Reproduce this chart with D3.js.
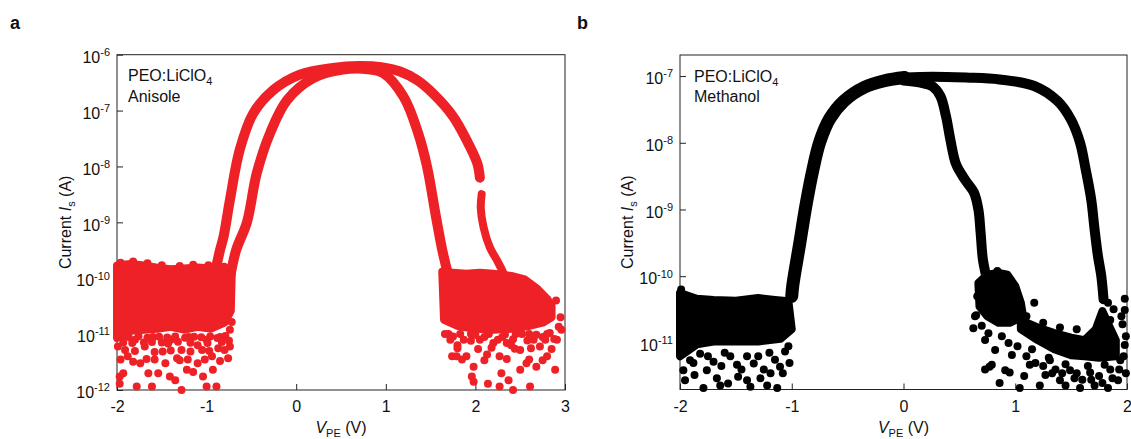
<!DOCTYPE html>
<html>
<head>
<meta charset="utf-8">
<script src="https://cdn.jsdelivr.net/npm/d3@7"></script>
<style>
body { margin: 0; background: #fff; }
svg text { font-family: "Liberation Sans", Arial, sans-serif; fill: #111; }
</style>
</head>
<body>
<div id="chart"></div>
<script>
// ---------- panel a (anisole), V in volts, I in amps ----------
var aTicksX = [-2, -1, 0, 1, 2, 3];
var aTicksY = [1e-12, 1e-11, 1e-10, 1e-9, 1e-8, 1e-7, 1e-6];

// outer left rise -> plateau -> slow right decay
var aSweep1 = [[-0.90,1.4e-10],[-0.85,3.2e-10],[-0.81,5.6e-10],[-0.74,2.5e-9],[-0.63,2.0e-8],[-0.48,8.9e-8],
  [-0.26,2.3e-7],[0.04,4.4e-7],[0.41,5.8e-7],[0.70,6.3e-7],[0.95,6.0e-7],[1.16,5.0e-7],[1.35,3.5e-7],
  [1.53,2.0e-7],[1.75,7.9e-8],[1.90,3.0e-8],[2.02,1.15e-8],[2.05,6.3e-9]];
// inner left rise -> plateau -> steep right drop
var aSweep2 = [[-0.74,1.0e-10],[-0.67,3.2e-10],[-0.55,1.0e-9],[-0.44,7.6e-9],[-0.29,4.0e-8],[-0.10,1.55e-7],
  [0.19,3.8e-7],[0.52,5.4e-7],[0.80,5.5e-7],[0.97,4.7e-7],[1.20,1.75e-7],[1.36,4.0e-8],[1.46,1.0e-8],
  [1.56,1.26e-9],[1.63,3.2e-10],[1.69,1.26e-10]];
var aTail = [[2.07,3.2e-9],[2.06,1.8e-9],[2.09,8.3e-10],[2.16,3.6e-10],[2.24,2.1e-10],[2.31,1.26e-10],[2.35,7.9e-11]];

var aFloorLeftTop = [[-2.0,1.7e-10],[-1.85,1.8e-10],[-1.7,1.7e-10],[-1.55,1.55e-10],[-1.4,1.45e-10],[-1.25,1.5e-10],
  [-1.1,1.55e-10],[-0.95,1.5e-10],[-0.8,1.6e-10],[-0.72,1.2e-10]];
var aFloorLeftBottom = [[-2.0,8.5e-12],[-1.85,1.15e-11],[-1.7,1.2e-11],[-1.55,1.25e-11],[-1.4,1.35e-11],[-1.25,1.2e-11],
  [-1.1,1.35e-11],[-0.95,1.25e-11],[-0.8,1.6e-11],[-0.73,2.6e-11]];
var aFloorRightTop = [[1.63,1.3e-10],[1.75,1.25e-10],[1.9,1.2e-10],[2.05,1.25e-10],[2.2,1.2e-10],[2.4,1.1e-10],
  [2.55,9.5e-11],[2.69,6.5e-11],[2.8,4.3e-11],[2.85,3.2e-11]];
var aFloorRightBottom = [[1.65,1.8e-11],[1.8,1.4e-11],[2.0,1.25e-11],[2.2,1.2e-11],[2.4,1.25e-11],[2.6,1.4e-11],
  [2.75,1.6e-11],[2.85,2.0e-11]];

var aScatterLeft = [[-1.97,1.75e-12],[-1.93,2.0e-12],[-1.97,1.3e-12],[-1.78,1.15e-12],[-1.61,1.15e-12],[-1.28,1.0e-12],
  [-1.0,1.15e-12],[-0.89,1.15e-12],[-1.65,2.0e-12],[-1.54,2.0e-12],[-1.41,1.75e-12],[-1.35,1.5e-12],[-1.22,2.3e-12],
  [-1.15,2.1e-12],[-1.04,1.75e-12],[-0.93,2.3e-12],[-0.76,3.7e-12],[-0.74,6.0e-12],[-1.88,4.0e-12],[-1.82,3.2e-12],
  [-1.74,3.0e-12],[-1.58,3.5e-12],[-1.46,3.0e-12],[-1.33,3.7e-12],[-1.21,3.5e-12],[-1.10,3.0e-12],[-0.94,4.0e-12],
  [-1.99,6.0e-12],[-1.91,5.2e-12],[-1.69,6.0e-12],[-1.49,4.9e-12],[-1.28,5.2e-12],[-1.05,5.2e-12],[-0.87,5.6e-12],
  [-0.72,1.65e-11],[-0.74,1.2e-11],[-1.95,8.9e-12],[-1.8,7.9e-12],[-1.6,8.9e-12],[-1.4,7.9e-12],[-1.2,8.9e-12],
  [-1.0,7.9e-12],[-0.85,8.9e-12],[-1.7,7.1e-12],[-1.5,7.1e-12],[-1.1,6.3e-12],
  [-1.87,8.9e-12],[-1.76,9.2e-12],[-1.66,8.6e-12],[-1.53,9.0e-12],[-1.44,8.7e-12],[-1.35,9.1e-12],[-1.24,8.6e-12],
  [-1.14,9.0e-12],[-1.06,8.8e-12],[-0.96,9.1e-12],[-0.88,8.5e-12],[-0.79,9.3e-12],
  [-1.93,7.1e-12],[-1.83,6.9e-12],[-1.61,7.2e-12],[-1.43,6.8e-12],[-1.32,7.3e-12],[-1.18,7.0e-12],[-0.99,6.9e-12],
  [-0.83,7.2e-12],[-0.75,7.6e-12],[-1.80,5.0e-12],[-1.58,4.8e-12],[-1.40,5.1e-12],[-1.18,4.9e-12],[-0.97,5.0e-12],
  [-0.80,5.2e-12],[-1.96,3.5e-12],[-1.67,3.6e-12],[-1.30,3.4e-12],[-1.02,3.5e-12],[-0.85,3.3e-12],
  [-1.96,1.9e-10],[-1.82,2.0e-10],[-1.66,1.85e-10],[-1.5,1.7e-10],[-1.3,1.65e-10],[-1.15,1.75e-10],[-0.98,1.7e-10]];
var aScatterRight = [[1.75,9.1e-12],[1.74,4.0e-12],[1.79,4.0e-12],[1.90,4.0e-12],[1.98,2.6e-12],[1.96,1.75e-12],
  [1.98,1.4e-12],[2.14,1.3e-12],[2.27,1.15e-12],[2.42,1.0e-12],[2.61,1.15e-12],[2.37,1.5e-12],[2.29,2.0e-12],
  [2.50,2.3e-12],[2.57,3.0e-12],[2.68,2.6e-12],[2.80,4.0e-12],[2.89,2.3e-12],[2.91,7.9e-12],[2.93,1.35e-11],
  [2.83,1.05e-11],[2.27,4.0e-12],[2.13,4.3e-12],[2.05,7.9e-12],[1.87,7.9e-12],[2.35,6.9e-12],[2.50,5.2e-12],
  [2.72,6.0e-12],[2.65,7.9e-12],[2.20,6.9e-12],[2.90,4.0e-11],[2.96,1.2e-11],[2.95,2.0e-11],[1.7,1.0e-11],
  [1.95,1.0e-11],[2.1,8.9e-12],[2.3,8.9e-12],[2.45,1.0e-11],[2.6,1.0e-11],[2.75,8.9e-12],[2.4,6.3e-12],[1.8,6.3e-12],
  [1.66,1.0e-11],[1.83,1.0e-11],[2.0,9.6e-12],[2.15,1.0e-11],[2.33,9.8e-12],[2.52,1.0e-11],[2.68,9.7e-12],[2.8,1.0e-11],
  [1.72,7.9e-12],[1.95,7.6e-12],[2.25,7.9e-12],[2.42,8.1e-12],[2.58,7.7e-12],[2.78,7.9e-12],[2.88,8.2e-12],
  [1.80,5.6e-12],[2.03,5.4e-12],[2.18,5.7e-12],[2.44,5.5e-12],[2.62,5.6e-12],[2.85,5.4e-12],
  [1.85,3.5e-12],[2.10,3.4e-12],[2.35,3.6e-12],[2.60,3.5e-12],[2.75,3.4e-12]];

// ---------- panel b (methanol) ----------
var bTicksX = [-2, -1, 0, 1, 2];
var bTicksY = [1e-11, 1e-10, 1e-9, 1e-8, 1e-7];

var bRise = [[-1.0,5.0e-11],[-0.99,7.4e-11],[-0.93,3.0e-10],[-0.87,1.23e-9],[-0.81,4.0e-9],[-0.75,1.02e-8],
  [-0.66,2.3e-8],[-0.535,4.2e-8],[-0.35,6.8e-8],[-0.17,8.5e-8],[0.01,9.5e-8]];
var bSweepBack = [[0.01,9.5e-8],[0.255,9.8e-8],[0.56,9.5e-8],[0.86,8.9e-8],[1.17,7.1e-8],[1.38,4.2e-8],[1.50,2.2e-8],
  [1.58,1.0e-8],[1.63,4.0e-9],[1.68,1.4e-9],[1.71,5.0e-10],[1.74,2.0e-10],[1.77,1.0e-10],[1.79,4.5e-11]];
var bSweepFwd = [[0.0,8.6e-8],[0.15,8.0e-8],[0.26,7.0e-8],[0.33,5.0e-8],[0.38,2.5e-8],[0.42,1.1e-8],[0.47,4.8e-9],
  [0.55,2.8e-9],[0.63,1.8e-9],[0.67,1.0e-9],[0.69,4.5e-10],[0.71,1.8e-10],[0.74,1.0e-10]];

var bFloorLeftTop = [[-2.0,5.6e-11],[-1.85,4.6e-11],[-1.7,4.4e-11],[-1.5,4.3e-11],[-1.3,4.7e-11],[-1.15,4.4e-11],[-1.03,4.2e-11]];
var bFloorLeftBottom = [[-2.0,6.3e-12],[-1.85,9.5e-12],[-1.7,1.05e-11],[-1.5,1.05e-11],[-1.3,1.05e-11],[-1.1,1.15e-11],[-1.0,1.6e-11]];
var bBlobTop = [[0.67,7.9e-11],[0.75,1.05e-10],[0.85,1.12e-10],[0.93,1.05e-10],[1.0,7.1e-11],[1.05,4.0e-11],[1.07,2.5e-11]];
var bBlobBottom = [[0.68,3.5e-11],[0.75,2.5e-11],[0.85,2.0e-11],[0.95,2.0e-11],[1.07,2.5e-11]];
var bCloudTop = [[1.05,2.2e-11],[1.2,1.7e-11],[1.35,1.4e-11],[1.5,1.2e-11],[1.62,1.1e-11],[1.72,1.6e-11],[1.78,3.0e-11],
  [1.84,1.8e-11],[1.9,1.1e-11]];
var bCloudBottom = [[1.05,1.6e-11],[1.2,1.1e-11],[1.35,8.0e-12],[1.5,6.5e-12],[1.62,6.3e-12],[1.75,6.0e-12],[1.9,6.3e-12]];

var bScatterLeft = [[-1.79,2.1e-12],[-1.64,2.3e-12],[-1.57,2.45e-12],[-1.37,2.2e-12],[-1.22,2.3e-12],[-1.13,2.1e-12],
  [-1.955,2.75e-12],[-1.97,3.9e-12],[-1.87,3.3e-12],[-1.76,3.9e-12],[-1.67,2.95e-12],[-1.48,3.1e-12],[-1.40,2.75e-12],
  [-1.28,2.95e-12],[-1.19,3.5e-12],[-1.105,4.4e-12],[-1.91,5.5e-12],[-1.70,5.2e-12],[-1.49,4.7e-12],[-1.34,4.9e-12],
  [-1.06,7.4e-12],[-1.82,6.9e-12],[-1.6,7.1e-12],[-1.4,6.3e-12],[-1.2,7.1e-12],[-1.95,7.9e-12],[-1.99,6.3e-11],
  [-1.88,5.0e-12],[-1.75,6.3e-12],[-1.63,4.5e-12],[-1.55,6.3e-12],[-1.45,4.0e-12],[-1.3,6.3e-12],[-1.25,4.0e-12],
  [-1.15,5.6e-12],[-1.08,3.5e-12],[-1.03,8.9e-12],[-1.02,5.0e-12]];
var bScatterRight = [[0.625,1.65e-11],[0.64,2.5e-11],[0.73,4.0e-12],[0.77,4.4e-12],[1.17,4.0e-11],[1.71,1.4e-11],
  [1.98,3.1e-11],[1.98,4.6e-11],[0.86,2.5e-12],[1.04,2.1e-12],[1.22,2.3e-12],[1.40,2.75e-12],[1.58,2.1e-12],
  [1.71,2.3e-12],[1.83,2.1e-12],[1.92,2.75e-12],[0.95,3.6e-12],[1.13,4.7e-12],[1.31,5.5e-12],[1.49,3.9e-12],
  [1.67,3.6e-12],[1.80,4.7e-12],[1.94,5.5e-12],[1.98,9.3e-12],[0.82,7.8e-12],[0.73,1.1e-11],[0.79,4.7e-12],
  [0.97,6.6e-12],[1.89,1.1e-11],[1.85,2.2e-11],[1.96,1.9e-11],[1.62,9.3e-12],[0.91,3.9e-12],[1.27,3.3e-12],
  [1.45,2.3e-12],[1.53,2.95e-12],[1.87,2.95e-12],[0.65,2.6e-11],[1.08,3.2e-12],[1.36,4.0e-12],[1.75,3.2e-12],
  [1.99,3.5e-12],[0.84,1.2e-10],[0.66,5.0e-11],[0.70,1.8e-11],[0.76,1.4e-11],[0.88,1.26e-11],[0.94,1.0e-11],
  [1.02,8.9e-12],[1.10,6.3e-12],[1.18,5.0e-12],[1.25,4.5e-12],[1.33,3.5e-12],[1.42,3.5e-12],[1.55,3.5e-12],
  [1.60,2.8e-12],[1.68,2.8e-12],[1.78,2.5e-12],[1.85,4.0e-12],[1.93,4.0e-12],[1.97,6.3e-12],[1.99,1.26e-11],
  [1.95,2.5e-11],[1.88,3.2e-11],[1.83,4.0e-11],[1.10,2.5e-11],[1.25,2.0e-11],[1.40,1.7e-11],[1.55,1.6e-11],
  [1.30,6.0e-12],[1.45,4.8e-12],[1.65,4.5e-12],[1.15,8.0e-12]];

var red = "#ee2127";
var black = "#000";

var svg = d3.select("#chart").append("svg")
    .attr("width", 1131)
    .attr("height", 439);

function drawPanel(o) {
	var w = o.right - o.left;
	var h = o.bottom - o.top;
	var g = svg.append("g").attr("transform", "translate(" + o.left + "," + o.top + ")");

	var x = d3.scaleLinear().domain(o.xDomain).range([0, w]);
	var y = d3.scaleLog().domain(o.yDomain).range([h, 0]);

	// axes (ticks point inward)
	var gx = g.append("g")
		.attr("transform", "translate(0," + h + ")")
		.call(d3.axisBottom(x).tickValues(o.xTicks).tickSize(-6).tickSizeOuter(0).tickPadding(11)
			.tickFormat(function(d) { return d < 0 ? "-" + (-d) : d; }));
	var gy = g.append("g")
		.call(d3.axisLeft(y).tickValues(o.yTicks).tickSize(-6).tickSizeOuter(0).tickPadding(7));
	[gx, gy].forEach(function(a) {
		a.attr("font-size", 16).attr("color", "#222");
		a.select(".domain").remove();
	});
	gy.selectAll(".tick text").each(function(d) {
		var t = d3.select(this).text(null).attr("dy", "0.48em");
		t.append("tspan").text("10");
		t.append("tspan").attr("dy", "-0.62em").attr("font-size", "11px").text(Math.round(Math.log10(d)));
	});

	g.append("rect")
		.attr("width", w).attr("height", h)
		.attr("fill", "none").attr("stroke", "#222").attr("stroke-width", 1);

	// axis titles
	var xt = g.append("text").attr("x", w / 2).attr("y", h + 43).attr("text-anchor", "middle").attr("font-size", 16);
	xt.append("tspan").attr("font-style", "italic").text("V");
	xt.append("tspan").attr("font-size", 11).attr("dy", 4).text("PE");
	xt.append("tspan").attr("dy", -4).text(" (V)");

	var yt = g.append("text")
		.attr("transform", "translate(" + o.yTitleX + "," + (h / 2) + ") rotate(-90)")
		.attr("text-anchor", "middle").attr("font-size", 16);
	yt.append("tspan").text("Current ");
	yt.append("tspan").attr("font-style", "italic").text("I");
	yt.append("tspan").attr("font-size", 11).attr("dy", 4).text("s");
	yt.append("tspan").attr("dy", -4).text(" (A)");

	// legend
	var l1 = g.append("text").attr("x", o.legendX).attr("y", 26.5).attr("font-size", 16);
	l1.append("tspan").text("PEO:LiClO");
	l1.append("tspan").attr("font-size", 11).attr("dy", 4).text("4");
	g.append("text").attr("x", o.legendX).attr("y", 47).attr("font-size", 16).text(o.solvent);

	// data
	var line = d3.line()
		.x(function(d) { return x(d[0]); })
		.y(function(d) { return y(d[1]); })
		.curve(d3.curveCatmullRom);
	var poly = d3.line()
		.x(function(d) { return x(d[0]); })
		.y(function(d) { return y(d[1]); })
		.curve(d3.curveLinearClosed);

	var dg = g.append("g");
	o.blobs.forEach(function(b) {
		dg.append("path")
			.datum(b[0].concat(b[1].slice().reverse()))
			.attr("d", poly)
			.attr("fill", o.color).attr("stroke", o.color)
			.attr("stroke-width", 8).attr("stroke-linejoin", "round");
	});
	o.bands.forEach(function(b) {
		dg.append("path")
			.datum(b.data)
			.attr("d", line)
			.attr("fill", "none").attr("stroke", o.color)
			.attr("stroke-width", b.width).attr("stroke-linecap", "round").attr("stroke-linejoin", "round");
	});
	dg.selectAll("circle")
		.data(o.dots)
		.enter()
		.append("circle")
			.attr("cx", function(d) { return x(d[0]); })
			.attr("cy", function(d) { return y(d[1]); })
			.attr("r", 4)
			.attr("fill", o.color);
}

drawPanel({
	left: 117, top: 54.7, right: 565, bottom: 390,
	xDomain: [-2, 3], yDomain: [1e-12, 1e-6],
	xTicks: aTicksX, yTicks: aTicksY,
	yTitleX: -46, legendX: 11, solvent: "Anisole", color: red,
	blobs: [[aFloorLeftTop, aFloorLeftBottom], [aFloorRightTop, aFloorRightBottom]],
	bands: [{data: aSweep1, width: 10}, {data: aSweep2, width: 10}, {data: aTail, width: 8}],
	dots: aScatterLeft.concat(aScatterRight)
});

drawPanel({
	left: 680, top: 55, right: 1127, bottom: 389.5,
	xDomain: [-2, 2], yDomain: [2e-12, 2.07e-7],
	xTicks: bTicksX, yTicks: bTicksY,
	yTitleX: -47, legendX: 14, solvent: "Methanol", color: black,
	blobs: [[bFloorLeftTop, bFloorLeftBottom], [bBlobTop, bBlobBottom], [bCloudTop, bCloudBottom]],
	bands: [{data: bRise, width: 13}, {data: bSweepBack, width: 10}, {data: bSweepFwd, width: 10}],
	dots: bScatterLeft.concat(bScatterRight)
});

svg.append("text").attr("x", 10).attr("y", 29).attr("font-size", 18).attr("font-weight", "bold").text("a");
svg.append("text").attr("x", 577).attr("y", 29).attr("font-size", 18).attr("font-weight", "bold").text("b");
</script>
</body>
</html>
